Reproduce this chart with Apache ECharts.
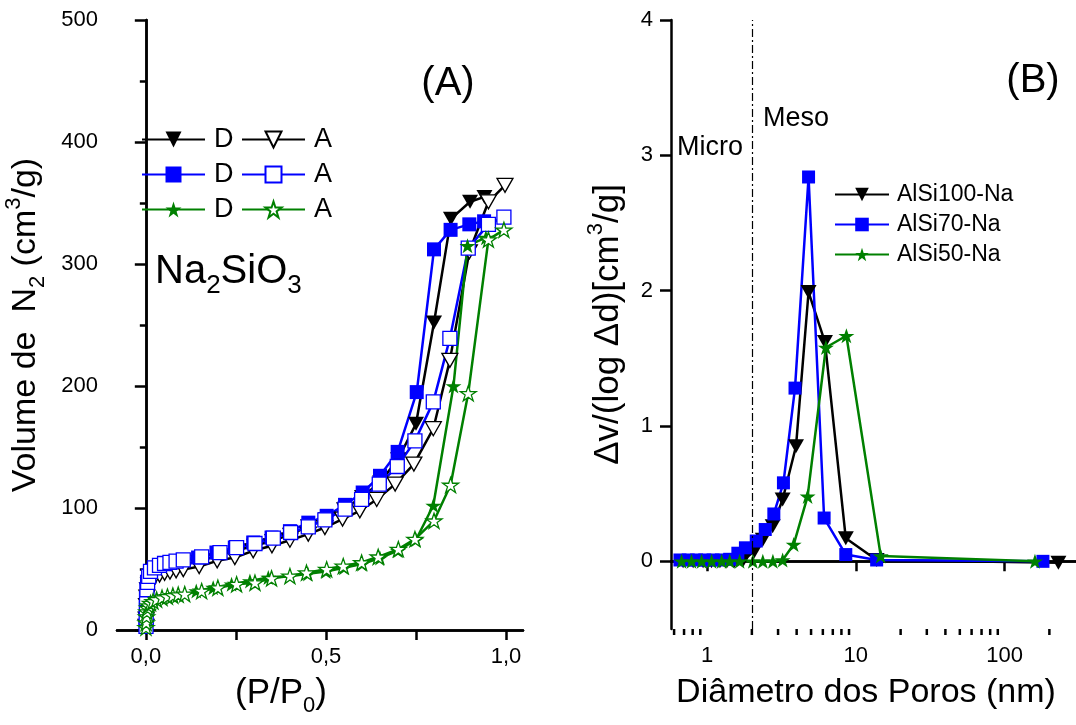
<!DOCTYPE html>
<html>
<head>
<meta charset="utf-8">
<script src="https://cdn.jsdelivr.net/npm/echarts@6/dist/echarts.min.js"></script>
<style>
  html, body { margin: 0; padding: 0; background: #fff; }
  #chart { width: 1076px; height: 725px; }
</style>
</head>
<body>
<div id="chart"></div>
<script>
// (A) isotermas N2: [P/P0, volume cm3/g]
const isoBlackDes = [[0.94,355],[0.90,351],[0.847,337],[0.80,252],[0.75,169],[0.70,140],[0.65,121],[0.60,109],[0.55,99],[0.50,91],[0.45,85],[0.40,78],[0.35,73],[0.30,69],[0.25,65],[0.20,61],[0.145,56]];
const isoBlackAds = [[0.0005,3],[0.001,9],[0.002,20],[0.003,27],[0.005,33],[0.008,37],[0.013,40],[0.024,43],[0.038,45],[0.052,46.5],[0.067,47.5],[0.084,48.5],[0.104,49.5],[0.148,52],[0.198,56.7],[0.247,59.4],[0.298,64.9],[0.35,69],[0.40,73.6],[0.451,78.6],[0.497,84],[0.546,90.9],[0.594,97.7],[0.641,107],[0.692,119.6],[0.744,136],[0.798,165],[0.844,221],[0.898,310],[0.951,351],[0.997,364.5]];
const isoBlueDes = [[0.939,335],[0.898,332.5],[0.846,328],[0.80,312],[0.752,195],[0.699,146],[0.65,126.4],[0.602,112.7],[0.553,102.6],[0.502,93.6],[0.451,88],[0.40,81],[0.349,75.8],[0.298,71.7],[0.247,67.6],[0.196,63.5],[0.145,59.4]];
const isoBlueAds = [[0.0005,3],[0.001,10],[0.0015,18],[0.002,26],[0.003,33],[0.005,39],[0.008,44],[0.013,48],[0.024,51],[0.038,53],[0.052,54.5],[0.067,55.5],[0.084,56.5],[0.104,57.5],[0.155,60],[0.206,63.5],[0.252,67.6],[0.303,70.9],[0.354,75.3],[0.402,79.9],[0.451,84.6],[0.497,90.3],[0.553,99],[0.599,107],[0.648,119.6],[0.698,134],[0.747,155],[0.798,187],[0.844,239],[0.895,313],[0.951,332.5],[0.994,338.5]];
const isoGreenDes = [[0.944,321.6],[0.893,315],[0.854,200],[0.798,102],[0.75,74],[0.70,65],[0.65,59],[0.60,54],[0.55,51],[0.50,48],[0.45,46],[0.40,44],[0.34,43],[0.289,40.2],[0.238,37.5],[0.187,34.7],[0.14,32]];
const isoGreenAds = [[0.0005,2],[0.001,6],[0.002,11],[0.003,15],[0.005,18],[0.008,20],[0.013,22],[0.02,23.5],[0.03,25],[0.045,26.5],[0.06,27.5],[0.075,28.3],[0.09,29],[0.108,29.5],[0.155,32],[0.20,34.7],[0.252,37.5],[0.303,38.8],[0.349,42.4],[0.40,44.3],[0.446,47],[0.502,49.8],[0.548,52.5],[0.599,55.3],[0.645,60],[0.701,66.3],[0.747,74.5],[0.80,89.5],[0.846,118.8],[0.895,194],[0.951,320],[0.994,328]];

// (B) distribuicao de poros: diametro (nm) e dv/dlogd
const dAl100 = [0.69,0.806,0.94,1.07,1.22,1.36,1.52,1.75,2.08,2.37,2.76,3.22,3.96,4.81,6.2,8.56,13.8,230];
const vAl100 = [0,0,0,0,0,0,0,0.01,0.074,0.16,0.26,0.457,0.85,1.99,1.62,0.17,0.01,-0.01];
const dAl70 = [0.657,0.746,0.85,0.965,1.097,1.247,1.418,1.61,1.81,2.14,2.46,2.81,3.26,3.9,4.81,6.12,8.56,13.8,181];
const vAl70 = [0.01,0.01,0.01,0.01,0.01,0.01,0.015,0.06,0.10,0.15,0.235,0.35,0.58,1.28,2.84,0.32,0.05,0.01,0];
const dAl50 = [0.674,0.786,0.919,1.073,1.253,1.419,1.655,2.03,2.37,2.77,3.22,3.82,4.74,6.29,8.64,14.7,160];
const vAl50 = [0,0,0,0,0,0,0,0,0,0,0.01,0.124,0.48,1.58,1.667,0.04,0];

// ticks
const isoXTicks = [0, 0.25, 0.5, 0.75, 1];
const isoXLabels = [0, 0.5, 1];
const psdYTicks = [0, 1, 2, 3, 4];
const psdYMinor = [0.5, 1.5, 2.5, 3.5];
const psdXMinor = [0.6,0.7,0.8,0.9,2,3,4,5,6,7,8,9,20,30,40,50,60,70,80,90,200];
const microMesoLimit = 2;

const font = "'Liberation Sans', Arial, sans-serif";
const STAR = 'path://M50,0 L61.8,35.1 L98.9,35.1 L68.9,56.9 L80.3,92.1 L50,70.4 L19.7,92.1 L31.1,56.9 L1.1,35.1 L38.2,35.1 Z';
const BLACK = '#000000', BLUE = '#0000ff', GREEN = '#008000';

function zip(a, b) { return a.map((x, i) => [x, b[i]]); }

function rich(size) {
  return {
    a: { fontSize: size, fontFamily: font, color: '#000', lineHeight: Math.round(size * 1.35) },
    sub: { fontSize: Math.round(size * 0.64), fontFamily: font, color: '#000', verticalAlign: 'bottom' },
    sup: { fontSize: Math.round(size * 0.64), fontFamily: font, color: '#000', verticalAlign: 'top' }
  };
}

function mk(name, data, color, sym, size, hollow, panel) {
  return {
    name: name,
    type: 'line',
    data: data,
    xAxisIndex: panel * 2,
    yAxisIndex: panel * 2,
    symbol: sym === 'tri' ? 'triangle' : (sym === 'star' ? STAR : 'rect'),
    symbolRotate: sym === 'tri' ? 180 : 0,
    symbolSize: size,
    symbolKeepAspect: true,
    showAllSymbol: true,
    lineStyle: { color: color, width: 2.5 },
    itemStyle: hollow ? { color: '#fff', borderColor: color, borderWidth: 1.3 } : { color: color, borderWidth: 0 },
    emphasis: { disabled: true },
    animation: false
  };
}

let chart = echarts.init(document.getElementById('chart'));

let axisLine = { show: true, lineStyle: { color: '#000', width: 2.5 } };
let tickLabel = { color: '#000', fontSize: 22, fontFamily: font };

let option = {
  backgroundColor: '#fff',
  animation: false,
  grid: [
    { left: 117, top: 20, width: 406, height: 610 },
    { left: 671, top: 20, width: 407, height: 609 }
  ],
  xAxis: [
    {
      gridIndex: 0, type: 'value', min: -0.08, max: 1.047,
      axisLine: axisLine, splitLine: { show: false },
      axisTick: { customValues: isoXTicks, length: 10, lineStyle: { width: 2.5 } },
      axisLabel: Object.assign({ customValues: isoXLabels, margin: 16,
        formatter: v => v.toFixed(1).replace('.', ',') }, tickLabel)
    },
    {
      gridIndex: 0, type: 'value', position: 'top', min: -0.08, max: 1.047,
      axisLine: axisLine, splitLine: { show: false },
      axisTick: { customValues: isoXTicks, inside: true, length: 10, lineStyle: { width: 2.5 } },
      axisLabel: { show: false }
    },
    {
      gridIndex: 1, type: 'log', logBase: 10, min: 0.572, max: 302,
      axisLine: axisLine, splitLine: { show: false },
      axisTick: { length: 10, lineStyle: { width: 2.5 } },
      axisLabel: Object.assign({ margin: 16, showMinLabel: false, showMaxLabel: false }, tickLabel)
    },
    {
      gridIndex: 1, type: 'log', logBase: 10, position: 'top', min: 0.572, max: 302,
      axisLine: axisLine, splitLine: { show: false },
      axisTick: { show: false }, axisLabel: { show: false }
    }
  ],
  yAxis: [
    {
      gridIndex: 0, type: 'value', min: 0, max: 500, interval: 100,
      axisLine: axisLine, splitLine: { show: false },
      axisTick: { length: 11, lineStyle: { width: 2.5 } },
      minorTick: { show: true, splitNumber: 2, length: 6, lineStyle: { color: '#000', width: 2.5 } },
      axisLabel: Object.assign({ margin: 19 }, tickLabel),
      name: '{a|Volume de  N}{sub|2}{a| (cm}{sup|3}{a|/g)}',
      nameLocation: 'middle', nameGap: 68,
      nameTextStyle: { rich: rich(34) }
    },
    {
      gridIndex: 0, type: 'value', position: 'right', min: 0, max: 500, interval: 100,
      axisLine: axisLine, splitLine: { show: false },
      axisTick: { inside: true, length: 10, lineStyle: { width: 2.5 } },
      minorTick: { show: true, splitNumber: 2, length: 6, lineStyle: { color: '#000', width: 2.5 } },
      axisLabel: { show: false }
    },
    {
      gridIndex: 1, type: 'value', min: -0.5, max: 4,
      axisLine: axisLine, splitLine: { show: false },
      axisTick: { customValues: psdYTicks, length: 11, lineStyle: { width: 2.5 } },
      axisLabel: Object.assign({ customValues: psdYTicks, margin: 18 }, tickLabel),
      name: '{a|\u0394v/(log \u0394d)[cm}{sup|3}{a|/g]}',
      nameLocation: 'middle', nameGap: 39,
      nameTextStyle: { rich: rich(35) }
    },
    {
      gridIndex: 1, type: 'value', min: -0.5, max: 4,
      axisLine: { show: false }, splitLine: { show: false },
      axisTick: { customValues: psdYMinor, length: 5, lineStyle: { color: '#000', width: 2.5 } },
      axisLabel: { show: false }
    }
  ],
  legend: [
    {
      data: ['D1', 'D2', 'D3'], formatter: n => n[0],
      orient: 'vertical', left: 141, top: 126, padding: 0,
      itemWidth: 63, itemHeight: 20, itemGap: 8, selectedMode: false,
      textStyle: { color: '#000', fontSize: 27, fontFamily: font, lineHeight: 20, padding: [0, 0, 0, 4] }
    },
    {
      data: ['A1', 'A2', 'A3'], formatter: n => n[0],
      orient: 'vertical', left: 241, top: 126, padding: 0,
      itemWidth: 63, itemHeight: 20, itemGap: 8, selectedMode: false,
      textStyle: { color: '#000', fontSize: 27, fontFamily: font, lineHeight: 20, padding: [0, 0, 0, 4] }
    },
    {
      data: ['AlSi100-Na', 'AlSi70-Na', 'AlSi50-Na'],
      orient: 'vertical', left: 834, top: 183, padding: 0,
      itemWidth: 54, itemHeight: 17, itemGap: 7, selectedMode: false,
      textStyle: { color: '#000', fontSize: 23, fontFamily: font, lineHeight: 17, padding: [0, 0, 0, 3] }
    }
  ],
  graphic: [
    { type: 'text', x: 448, y: 84, style: { text: '(A)', fontSize: 40, fontFamily: font, fill: '#000', textAlign: 'center', textVerticalAlign: 'middle' } },
    { type: 'text', x: 1033, y: 81, style: { text: '(B)', fontSize: 40, fontFamily: font, fill: '#000', textAlign: 'center', textVerticalAlign: 'middle' } },
    { type: 'text', x: 677, y: 148, style: { text: 'Micro', fontSize: 27, fontFamily: font, fill: '#000', textAlign: 'left', textVerticalAlign: 'middle' } },
    { type: 'text', x: 763, y: 119, style: { text: 'Meso', fontSize: 27, fontFamily: font, fill: '#000', textAlign: 'left', textVerticalAlign: 'middle' } },
    { type: 'text', x: 155, y: 272, style: { text: '{a|Na}{sub|2}{a|SiO}{sub|3}', rich: rich(40), textAlign: 'left', textVerticalAlign: 'middle' } },
    { type: 'text', x: 281, y: 693, style: { text: '{a|(P/P}{sub|0}{a|)}', rich: rich(35), textAlign: 'center', textVerticalAlign: 'middle' } },
    { type: 'text', x: 866, y: 693, style: { text: 'Di\u00e2metro dos Poros (nm)', fontSize: 34, fontFamily: font, fill: '#000', textAlign: 'center', textVerticalAlign: 'middle' } }
  ],
  series: [
    mk('D1', isoBlackDes, BLACK, 'tri', [16, 14], false, 0),
    mk('A1', isoBlackAds, BLACK, 'tri', [16, 14], true, 0),
    mk('D2', isoBlueDes, BLUE, 'sq', 14, false, 0),
    mk('A2', isoBlueAds, BLUE, 'sq', 14, true, 0),
    mk('D3', isoGreenDes, GREEN, 'star', 16, false, 0),
    mk('A3', isoGreenAds, GREEN, 'star', 16, true, 0),
    Object.assign(mk('AlSi100-Na', zip(dAl100, vAl100), BLACK, 'tri', [16, 14], false, 1), {
      markLine: {
        silent: true, symbol: 'none', label: { show: false },
        lineStyle: { color: '#000', width: 1.2, type: [8, 3, 2, 3] },
        data: [{ xAxis: microMesoLimit }]
      }
    }),
    mk('AlSi70-Na', zip(dAl70, vAl70), BLUE, 'sq', 13, false, 1),
    mk('AlSi50-Na', zip(dAl50, vAl50), GREEN, 'star', 16, false, 1),
    {
      // minor ticks of the log axis
      type: 'custom', xAxisIndex: 2, yAxisIndex: 2, silent: true, clip: false,
      data: psdXMinor.map(v => [v, -0.5]),
      renderItem: function (params, api) {
        let p = api.coord([api.value(0), api.value(1)]);
        return {
          type: 'line',
          shape: { x1: p[0], y1: p[1], x2: p[0], y2: p[1] + 6 },
          style: { stroke: '#000', lineWidth: 2.5 }
        };
      }
    }
  ]
};

chart.setOption(option);
</script>
</body>
</html>
